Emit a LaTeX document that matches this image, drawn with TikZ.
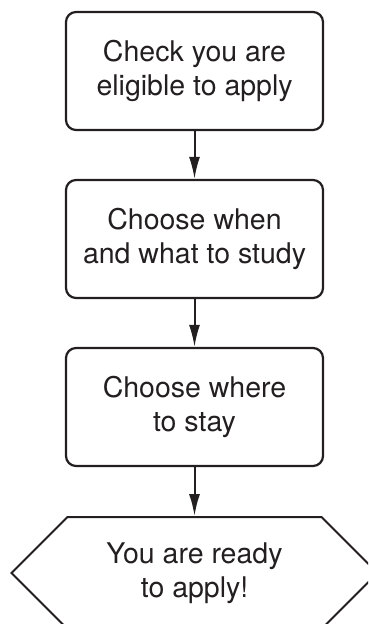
\documentclass[tikz,border=0pt]{standalone}
\usepackage{fontspec}
\setmainfont{TeX Gyre Heros}
\usetikzlibrary{shapes.symbols,arrows.meta}
\definecolor{ink}{RGB}{35,31,32}

\begin{document}
\begin{tikzpicture}[x=1pt,y=-1pt]
  \tikzstyle{stage}=[draw=ink, line width=2.2pt, rounded corners=10pt, minimum width=257pt, minimum height=118pt, inner sep=0pt, align=center, text=ink, font=\fontsize{28.5}{34}\selectfont]
  \tikzstyle{goal} =[draw=ink, line width=2pt, shape=signal, signal to=west and east, signal pointer angle=90, minimum width=366pt, minimum height=112pt, inner sep=0pt, align=center, text=ink, font=\fontsize{28.5}{34}\selectfont]
  \tikzstyle{flow} =[draw=ink, line width=2pt, -{Latex[length=22pt,width=11pt]}]
  \useasboundingbox (0,0) rectangle (368,624);
  \clip (0,0) rectangle (368,624);
  \node[stage](s1) at (194.5, 71) {Check you are\\eligible to apply};
  \node[stage](s2) at (194.5,239) {Choose when\\and what to study};
  \node[stage](s3) at (194.5,407) {Choose where\\to stay};
  \node[goal] (g)  at (194.5,573) {You are ready\\to apply!};
  \draw[flow] (s1.south) -- (s2.north);
  \draw[flow] (s2.south) -- (s3.north);
  \draw[flow] (s3.south) -- (g.north);
\end{tikzpicture}
\end{document}
